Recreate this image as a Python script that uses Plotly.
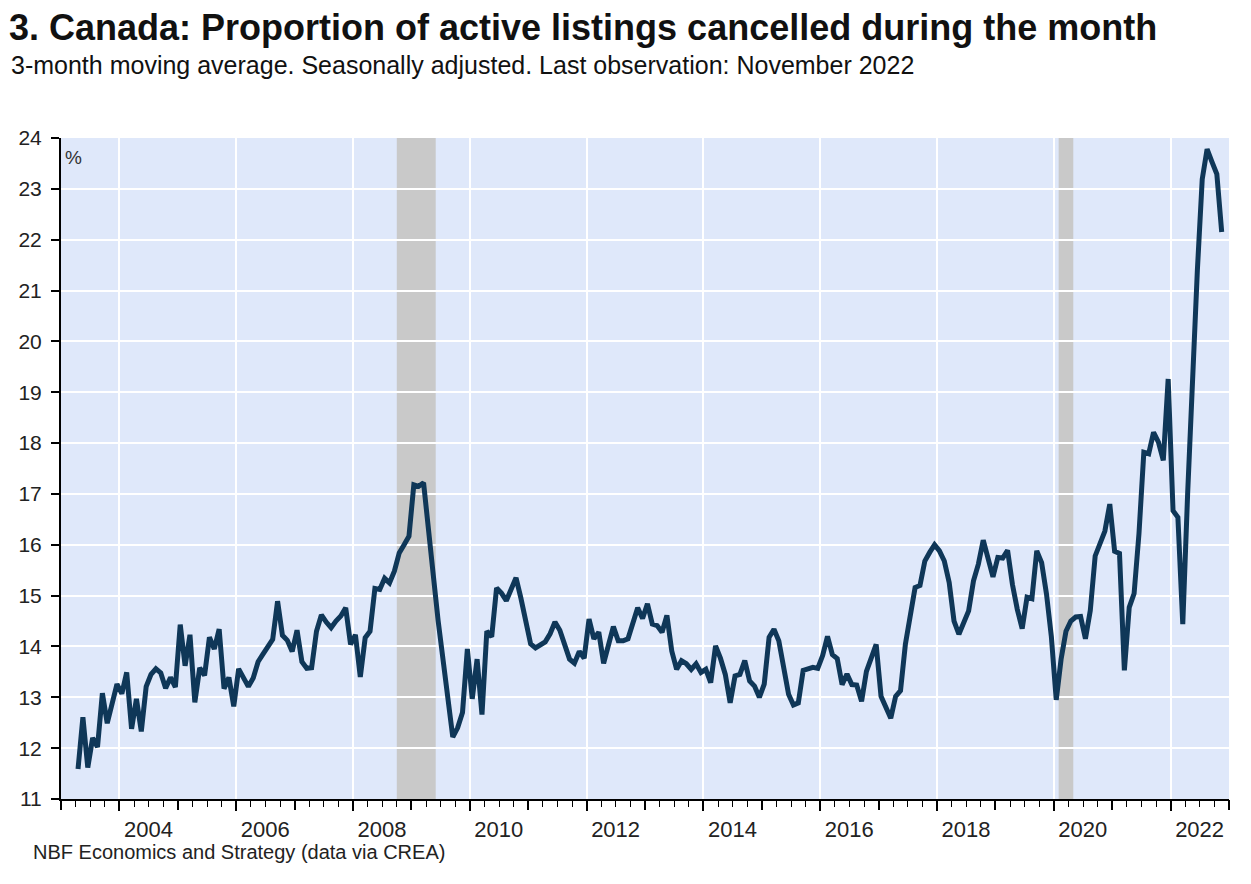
import pandas as pd
import plotly.graph_objects as go

# ---------------- data ----------------
first_month = "2003-04"
last_month = "2022-11"
cancel_rate = [
    11.59, 12.61, 11.62, 12.20, 12.02, 13.08, 12.49, 12.90, 13.26,                 # 2003 Apr-Dec
    13.07, 13.49, 12.38, 12.97, 12.33, 13.21, 13.45, 13.56, 13.48, 13.18, 13.39, 13.20,  # 2004
    14.43, 13.62, 14.23, 12.90, 13.58, 13.43, 14.18, 13.95, 14.34, 13.17, 13.39, 12.82,  # 2005
    13.56, 13.40, 13.21, 13.38, 13.70, 13.85, 14.00, 14.14, 14.89, 14.22, 14.12, 13.90,  # 2006
    14.32, 13.70, 13.57, 13.58, 14.30, 14.62, 14.48, 14.37, 14.50, 14.60, 14.76, 14.04,  # 2007
    14.23, 13.40, 14.17, 14.30, 15.14, 15.12, 15.34, 15.25, 15.48, 15.84, 16.00, 16.17,  # 2008
    17.18, 17.15, 17.22, 16.20, 15.40, 14.50, 13.70, 12.90, 12.22, 12.40, 12.70, 13.95,  # 2009
    12.97, 13.75, 12.66, 14.30, 14.19, 15.15, 15.05, 14.90, 15.10, 15.35, 14.95, 14.50,  # 2010
    14.05, 13.97, 14.02, 14.09, 14.25, 14.48, 14.32, 14.05, 13.75, 13.67, 13.90, 13.77,  # 2011
    14.54, 14.15, 14.28, 13.67, 14.00, 14.39, 14.11, 14.11, 14.15, 14.45, 14.76, 14.55,  # 2012
    14.84, 14.44, 14.41, 14.28, 14.61, 13.91, 13.55, 13.72, 13.66, 13.55, 13.66, 13.49,  # 2013
    13.55, 13.29, 14.01, 13.77, 13.45, 12.89, 13.42, 13.45, 13.72, 13.32, 13.22, 13.00,  # 2014
    13.26, 14.18, 14.34, 14.11, 13.62, 13.06, 12.85, 12.89, 13.53, 13.55, 13.59, 13.57,  # 2015
    13.82, 14.20, 13.84, 13.76, 13.25, 13.46, 13.25, 13.24, 12.92, 13.51, 13.78, 14.04,  # 2016
    13.02, 12.82, 12.59, 13.02, 13.13, 14.04, 14.60, 15.16, 15.20, 15.68, 15.85, 16.00,  # 2017
    15.88, 15.68, 15.26, 14.50, 14.24, 14.47, 14.70, 15.29, 15.62, 16.09, 15.68, 15.37,  # 2018
    15.75, 15.74, 15.89, 15.22, 14.73, 14.35, 14.97, 14.94, 15.88, 15.65, 15.03, 14.19,  # 2019
    12.95, 13.75, 14.30, 14.50, 14.58, 14.59, 14.15, 14.71, 15.78, 16.01, 16.27, 16.80,  # 2020
    15.87, 15.83, 13.53, 14.77, 15.04, 16.22, 17.82, 17.79, 18.21, 18.02, 17.66, 19.26,  # 2021
    16.67, 16.54, 14.44, 17.00, 19.30, 21.40, 23.19, 23.78, 23.53, 23.29, 22.15,         # 2022 Jan-Nov
]
recession_start = ["2008-10", "2020-02"]
recession_end = ["2009-05", "2020-04"]
label_years = list(range(2004, 2023, 2))
y_ticks = list(range(11, 25))

title_text = "3. Canada: Proportion of active listings cancelled during the month"
subtitle_text = "3-month moving average. Seasonally adjusted. Last observation: November 2022"
source_text = "NBF Economics and Strategy (data via CREA)"

# ---------------- helpers ----------------
months = pd.period_range(first_month, last_month, freq="M")
x_dec = [p.year + (p.month - 0.5) / 12 for p in months]


def month_start(s):
    p = pd.Period(s, freq="M")
    return p.year + (p.month - 1) / 12


def month_end(s):
    p = pd.Period(s, freq="M")
    return p.year + p.month / 12


FONT = "Liberation Sans, Arial, sans-serif"
LINE_COLOR = "#0f3758"
BG = "#dfe8fa"

fig = go.Figure()
fig.add_trace(go.Scatter(
    x=x_dec, y=cancel_rate, mode="lines",
    line=dict(color=LINE_COLOR, width=5), showlegend=False,
))
# empty trace so that the secondary tick axis is drawn
fig.add_trace(go.Scatter(x=[None], y=[None], xaxis="x2", showlegend=False, hoverinfo="skip"))

for s, e in zip(recession_start, recession_end):
    fig.add_shape(type="rect", xref="x", yref="paper",
                  x0=month_start(s), x1=month_end(e), y0=0, y1=1,
                  fillcolor="#c9c9c9", line=dict(width=0), layer="below")

year_min, year_max = 2003, 2023

fig.update_layout(
    width=1251, height=884,
    margin=dict(l=61, r=22, t=138, b=85),
    paper_bgcolor="white", plot_bgcolor=BG,
    font=dict(family=FONT, color="#222222"),
    title=dict(text="<b>" + title_text + "</b>", xref="container", yref="container",
               x=9 / 1251, xanchor="left", y=1 - 27.4 / 884, yanchor="middle",
               font=dict(size=36, color="#111111", family=FONT)),
    xaxis=dict(
        range=[year_min, year_max], tickmode="array", tickvals=label_years,
        ticktext=[str(v) for v in label_years], ticklabelshift=29,
        showgrid=True, gridcolor="white", gridwidth=2,
        ticks="outside", ticklen=10, tickwidth=1.5, tickcolor="black",
        showline=True, linecolor="black", linewidth=2, zeroline=False,
        tickfont=dict(size=22, color="#222222"),
        minor=dict(dtick=0.25, tick0=2003, ticks="outside", ticklen=6,
                   tickwidth=1.3, tickcolor="black", showgrid=False),
        fixedrange=True,
    ),
    xaxis2=dict(
        overlaying="x", anchor="y", side="bottom",
        range=[year_min, year_max], tickmode="array",
        tickvals=list(range(year_min, year_max + 1, 2)),
        showticklabels=False, ticks="outside", ticklen=10, tickwidth=1.5,
        tickcolor="black", showgrid=False, showline=False, zeroline=False,
    ),
    yaxis=dict(
        range=[11, 24], tickmode="array", tickvals=y_ticks,
        showgrid=True, gridcolor="white", gridwidth=2,
        ticks="outside", ticklen=8, tickwidth=1.5, tickcolor="black",
        showline=True, linecolor="black", linewidth=2, zeroline=False,
        tickfont=dict(size=21, color="#222222"), ticklabelstandoff=5,
    ),
    annotations=[
        dict(text=subtitle_text, xref="paper", yref="paper",
             x=(9 - 61) / 1168, y=(799 - 65) / 661, xanchor="left", yanchor="middle",
             showarrow=False, font=dict(size=25, color="#111111", family=FONT)),
        dict(text=source_text, xref="paper", yref="paper",
             x=(31 - 61) / 1168, y=(799 - 852.3) / 661, xanchor="left", yanchor="middle",
             showarrow=False, font=dict(size=20, color="#222222", family=FONT)),
        dict(text="%", xref="paper", yref="paper",
             x=(63 - 61) / 1168, y=(799 - 158) / 661, xanchor="left", yanchor="middle",
             showarrow=False, font=dict(size=19, color="#333333", family=FONT)),
    ],
)

fig.write_html("out.html", config={"displayModeBar": False},
               post_script="document.body.style.margin='0';document.body.style.padding='0';")
